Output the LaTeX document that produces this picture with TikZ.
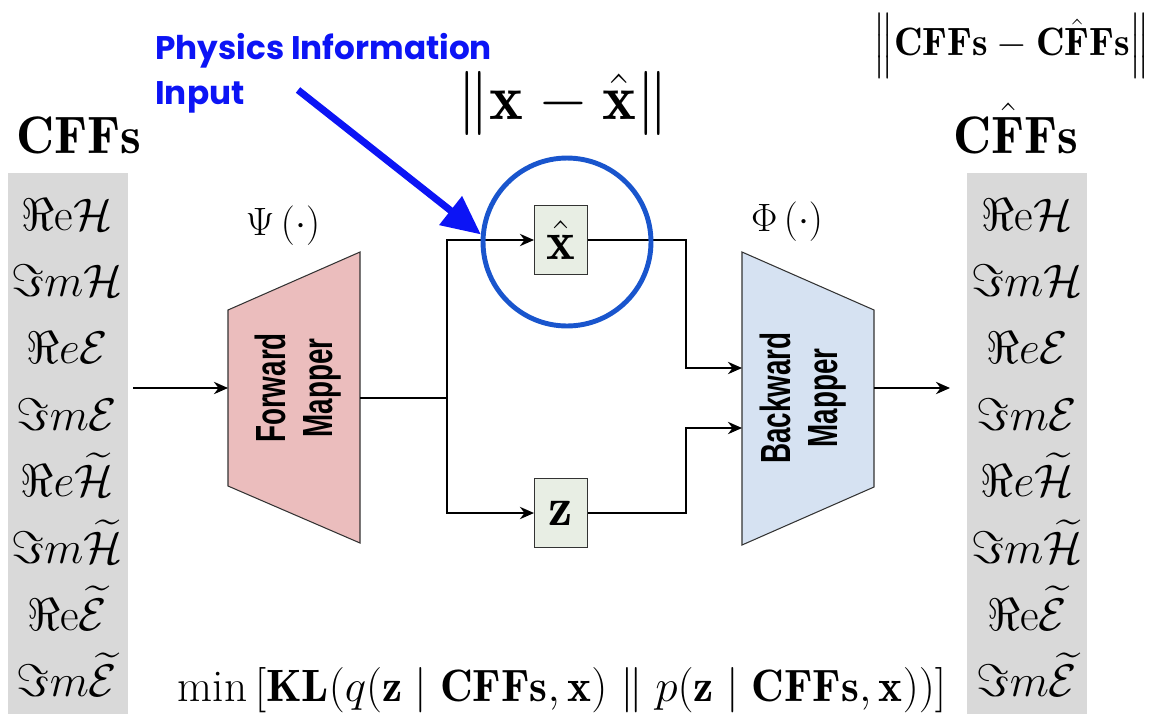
\RequirePackage{fix-cm}
\documentclass[tikz,border=0pt]{standalone}
\usepackage{amsmath}
\usepackage{fontspec}
\newfontfamily\mapperfont[FakeStretch=0.66]{Liberation Sans}
\newfontfamily\notefont{Poppins}
\usetikzlibrary{arrows.meta}
\definecolor{cffgray}{RGB}{217,217,217}
\definecolor{fwdpink}{RGB}{235,189,189}
\definecolor{bwdblue}{RGB}{214,226,242}
\definecolor{latentgreen}{RGB}{232,238,228}
\definecolor{physblue}{RGB}{12,20,245}
\definecolor{ringblue}{RGB}{25,85,205}
\begin{document}
\begin{tikzpicture}[x=0.02cm, y=-0.02cm,
  every node/.style={inner sep=0pt},
  cffcol/.style={fill=cffgray, minimum width=2.4cm, minimum height=10.82cm},
  cffhead/.style={anchor=base, font=\fontsize{30}{34}\selectfont},
  cffitem/.style={anchor=base, font=\fontsize{26}{30}\selectfont},
  mapper/.style={draw=black!80, line width=0.6pt},
  mappertext/.style={rotate=90, align=center,
    font=\mapperfont\bfseries\fontsize{24}{27}\selectfont},
  latent/.style={draw=black!80, fill=latentgreen, line width=0.6pt,
    minimum width=1.06cm, minimum height=1.38cm, font=\fontsize{31}{32}\selectfont},
  maplabel/.style={font=\fontsize{22.5}{26}\selectfont},
  lossterm/.style={font=\fontsize{36.5}{40}\selectfont},
  link/.style={line width=1.1pt},
  flow/.style={link, -{Stealth[length=8pt,width=7pt]}},
  ring/.style={circle, draw=ringblue, line width=2.8pt, minimum size=3.36cm},
  physarrow/.style={draw=physblue, line width=4pt, -{Triangle[length=22pt,width=20pt]}}]
\useasboundingbox (0,0) rectangle (1155,714);

\node[cffcol] (colL) at (68,443.5) {};
\node[cffcol] (colR) at (1027,443.5) {};
\node[cffhead] (headL) at (79,153) {$\mathbf{CFFs}$};
\node[cffhead] (headR) at (1016,153) {$\mathbf{C}\hat{\mathbf{F}}\mathbf{Fs}$};
\foreach \cff [count=\i] in {\Re\mathrm{e}\mathcal{H}, \Im m\mathcal{H},
    \Re e\mathcal{E}, \Im m\mathcal{E}, \Re e\widetilde{\mathcal{H}},
    \Im m\widetilde{\mathcal{H}}, \Re\mathrm{e}\widetilde{\mathcal{E}},
    \Im m\widetilde{\mathcal{E}}} {
  \node[cffitem] (inL\i) at (67,{163.3+66.7*\i}) {$\cff$};
  \node[cffitem] (outR\i) at (1027,{163.3+66.7*\i}) {$\cff$};
}

\filldraw[mapper, fill=fwdpink] (228,310) -- (360,252) -- (360,543) -- (228,486) -- cycle;
\node[mappertext] (fwd) at (298,388) {Forward\\Mapper};
\node[maplabel] (psi) at (283,226) {$\Psi\left(\cdot\right)$};
\coordinate (fwdin) at (228,388);
\coordinate (fwdout) at (360,398);

\filldraw[mapper, fill=bwdblue] (742,252) -- (874,310) -- (874,487) -- (742,545) -- cycle;
\node[mappertext] (bwd) at (803,398) {Backward\\Mapper};
\node[maplabel] (phi) at (787,222) {$\Phi\left(\cdot\right)$};
\coordinate (bwdin1) at (742,368);
\coordinate (bwdin2) at (742,428);
\coordinate (bwdout) at (874,388);

\node[latent] (xhat) at (561,240) {$\hat{\mathbf{x}}$};
\node[latent] (z) at (561,513) {$\mathbf{z}$};
\coordinate (split) at (447,398);
\coordinate (mergeT) at (686,368);
\coordinate (mergeB) at (686,428);
\coordinate (intail) at (133,388);
\coordinate (outtip) at (950,388);

\draw[flow] (intail) -- (fwdin);
\draw[link] (fwdout) -- (split);
\draw[flow] (split) |- (xhat.west);
\draw[flow] (split) |- (z.west);
\draw[flow] (xhat.east) -| (mergeT) -- (bwdin1);
\draw[flow] (z.east) -| (mergeB) -- (bwdin2);
\draw[flow] (bwdout) -- (outtip);

\node[lossterm] (recx) at (563,103) {$\|\mathbf{x}-\hat{\mathbf{x}}\|$};
\node[font=\fontsize{22.5}{26}\selectfont] (reccff) at (1012,46)
  {$\Big\|\mathbf{CFFs}-\mathbf{C}\hat{\mathbf{F}}\mathbf{Fs}\Big\|$};
\node[font=\fontsize{25.8}{30}\selectfont] (kl) at (562,690)
  {$\min\left[\mathbf{KL}(q(\mathbf{z}\mid\mathbf{CFFs},\mathbf{x})\parallel
   p(\mathbf{z}\mid\mathbf{CFFs},\mathbf{x}))\right]$};

\node[ring] (ring) at (567,242) {};
\node[anchor=north west, align=left, text=physblue,
  font=\notefont\bfseries\fontsize{18.6}{25.5}\selectfont] (note) at (155,33)
  {Physics Information\\Input};
\coordinate (notetail) at (298,90);
\draw[physarrow] (notetail) -- (ring.175);
\end{tikzpicture}
\end{document}
